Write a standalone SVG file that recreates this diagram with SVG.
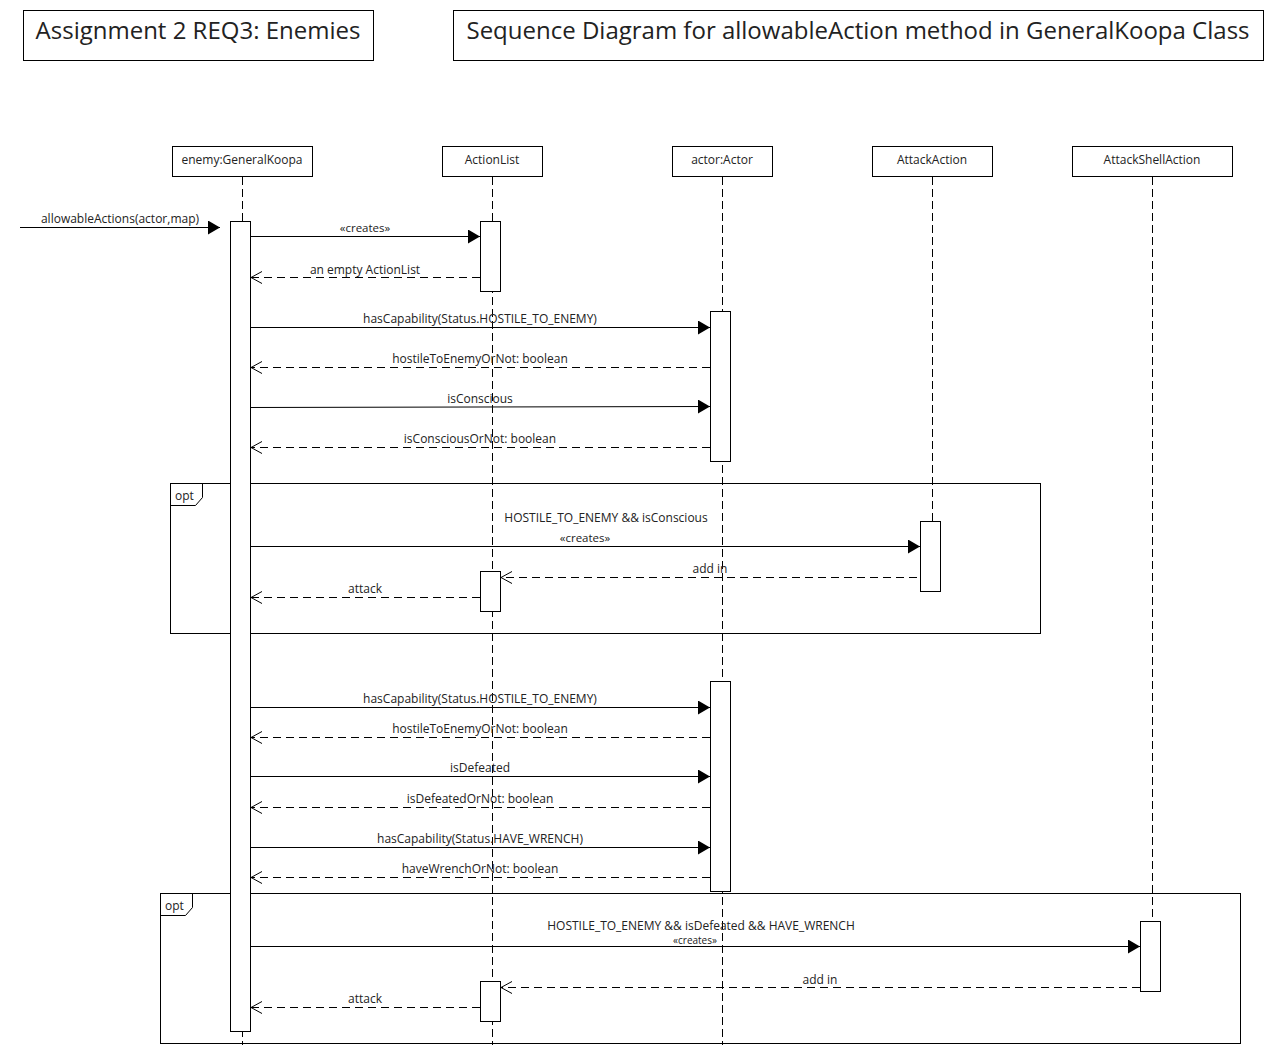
<svg xmlns="http://www.w3.org/2000/svg" width="1273" height="1053" viewBox="0 0 1273 1053">
<defs>
<style>
text{font-family:"Open Sans","Noto Sans","DejaVu Sans",sans-serif;fill:#222;}
.t{font-size:24px;text-anchor:middle;}
.l{font-size:12px;text-anchor:middle;}
.s{font-size:11.5px;text-anchor:middle;}
.box{fill:#fff;stroke:#000;stroke-width:1;}
.life{stroke:#000;stroke-width:1;stroke-dasharray:8 4;fill:none;}
.act{fill:#fff;stroke:#000;stroke-width:1;}
.sync{stroke:#000;stroke-width:1;fill:none;marker-end:url(#fill);}
.ret{stroke:#000;stroke-width:1;fill:none;stroke-dasharray:8 5;marker-end:url(#open);}
.frame{fill:none;stroke:#000;stroke-width:1;}
</style>
<marker id="fill" viewBox="0 0 12 14" refX="12" refY="7" markerWidth="12" markerHeight="14" markerUnits="userSpaceOnUse" orient="auto">
<path d="M0,0 L12,7 L0,14 Z" fill="#000"/>
</marker>
<marker id="open" viewBox="0 0 12 14" refX="11" refY="7" markerWidth="12" markerHeight="14" markerUnits="userSpaceOnUse" orient="auto">
<path d="M0,1 L11,7 L0,13" fill="none" stroke="#000" stroke-width="1"/>
</marker>
</defs>

<g id="title1"><rect class="box" x="23.5" y="10.5" width="350" height="50"/><text class="t" x="198" y="39">Assignment 2 REQ3: Enemies</text></g>
<g id="title2"><rect class="box" x="453.5" y="10.5" width="810" height="50"/><text class="t" x="858" y="39">Sequence Diagram for allowableAction method in GeneralKoopa Class</text></g>

<g id="frame-opt1"><rect class="frame" x="170.5" y="483.5" width="870" height="150"/><path class="frame" d="M170.5,505.5 H195.5 L202.5,497.5 V483.5"/><text x="175" y="500" style="font-size:12px">opt</text></g>
<g id="frame-opt2"><rect class="frame" x="160.5" y="893.5" width="1080" height="150"/><path class="frame" d="M160.5,915.5 H185.5 L192.5,907.5 V893.5"/><text x="165" y="910" style="font-size:12px">opt</text></g>

<g id="lifeline-enemy"><rect class="box" x="172.5" y="146.5" width="140" height="30"/><text class="l" x="242" y="164">enemy:GeneralKoopa</text><line class="life" x1="242.5" y1="177" x2="242.5" y2="1045"/><rect class="act" x="230.5" y="221.5" width="20" height="810"/></g>
<g id="lifeline-actionlist"><rect class="box" x="442.5" y="146.5" width="100" height="30"/><text class="l" x="492" y="164">ActionList</text><line class="life" x1="492.5" y1="177" x2="492.5" y2="1045"/><rect class="act" x="480.5" y="221.5" width="20" height="70"/><rect class="act" x="480.5" y="571.5" width="20" height="40"/><rect class="act" x="480.5" y="981.5" width="20" height="40"/></g>
<g id="lifeline-actor"><rect class="box" x="672.5" y="146.5" width="100" height="30"/><text class="l" x="722" y="164">actor:Actor</text><line class="life" x1="722.5" y1="177" x2="722.5" y2="1045"/><rect class="act" x="710.5" y="311.5" width="20" height="150"/><rect class="act" x="710.5" y="681.5" width="20" height="210"/></g>
<g id="lifeline-attackaction"><rect class="box" x="872.5" y="146.5" width="120" height="30"/><text class="l" x="932" y="164">AttackAction</text><line class="life" x1="932.5" y1="177" x2="932.5" y2="521"/><rect class="act" x="920.5" y="521.5" width="20" height="70"/></g>
<g id="lifeline-attackshell"><rect class="box" x="1072.5" y="146.5" width="160" height="30"/><text class="l" x="1152" y="164">AttackShellAction</text><line class="life" x1="1152.5" y1="177" x2="1152.5" y2="921"/><rect class="act" x="1140.5" y="921.5" width="20" height="70"/></g>

<g id="connectors">
<line class="sync" x1="20" y1="227.5" x2="220" y2="227.5"/>
<line class="sync" x1="251" y1="236.5" x2="480" y2="236.5"/>
<line class="ret" x1="480" y1="277.5" x2="251" y2="277.5"/>
<line class="sync" x1="251" y1="327.5" x2="710" y2="327.5"/>
<line class="ret" x1="710" y1="367.5" x2="251" y2="367.5"/>
<line class="sync" x1="251" y1="407.5" x2="710" y2="406.5"/>
<line class="ret" x1="710" y1="447.5" x2="251" y2="447.5"/>
<line class="sync" x1="251" y1="546.5" x2="920" y2="546.5"/>
<line class="ret" x1="917" y1="577.5" x2="501" y2="577.5"/>
<line class="ret" x1="480" y1="597.5" x2="251" y2="597.5"/>
<line class="sync" x1="251" y1="707.5" x2="710" y2="707.5"/>
<line class="ret" x1="710" y1="737.5" x2="251" y2="737.5"/>
<line class="sync" x1="251" y1="776.5" x2="710" y2="776.5"/>
<line class="ret" x1="710" y1="807.5" x2="251" y2="807.5"/>
<line class="sync" x1="251" y1="847.5" x2="710" y2="847.5"/>
<line class="ret" x1="710" y1="877.5" x2="251" y2="877.5"/>
<line class="sync" x1="251" y1="946.5" x2="1140" y2="946.5"/>
<line class="ret" x1="1140" y1="987.5" x2="501" y2="987.5"/>
<line class="ret" x1="480" y1="1007.5" x2="251" y2="1007.5"/>
</g>

<g id="labels">
<text class="l" x="120" y="223">allowableActions(actor,map)</text>
<text class="s" x="365" y="232">«creates»</text>
<text class="l" x="365" y="274">an empty ActionList</text>
<text class="l" x="480" y="323">hasCapability(Status.HOSTILE_TO_ENEMY)</text>
<text class="l" x="480" y="363">hostileToEnemyOrNot: boolean</text>
<text class="l" x="480" y="403">isConscious</text>
<text class="l" x="480" y="443">isConsciousOrNot: boolean</text>
<text class="l" x="606" y="522">HOSTILE_TO_ENEMY &amp;&amp; isConscious</text>
<text class="s" x="585" y="542">«creates»</text>
<text class="l" x="710" y="573">add in</text>
<text class="l" x="365" y="593">attack</text>
<text class="l" x="480" y="703">hasCapability(Status.HOSTILE_TO_ENEMY)</text>
<text class="l" x="480" y="733">hostileToEnemyOrNot: boolean</text>
<text class="l" x="480" y="772">isDefeated</text>
<text class="l" x="480" y="803">isDefeatedOrNot: boolean</text>
<text class="l" x="480" y="843">hasCapability(Status.HAVE_WRENCH)</text>
<text class="l" x="480" y="873">haveWrenchOrNot: boolean</text>
<text class="l" x="701" y="930">HOSTILE_TO_ENEMY &amp;&amp; isDefeated &amp;&amp; HAVE_WRENCH</text>
<text x="695" y="944" style="font-size:10px;text-anchor:middle">«creates»</text>
<text class="l" x="820" y="984">add in</text>
<text class="l" x="365" y="1003">attack</text>
</g>
</svg>
